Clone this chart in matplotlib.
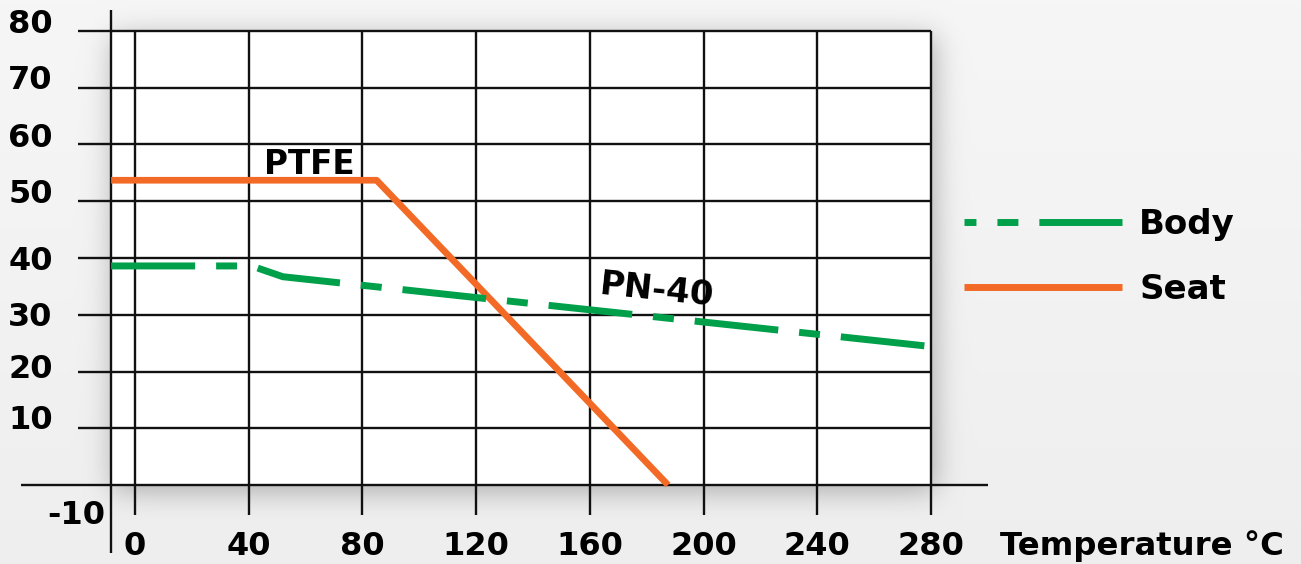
import numpy as np
import matplotlib
matplotlib.use("Agg")
import matplotlib.pyplot as plt
from matplotlib.lines import Line2D

plt.rcParams['font.family'] = ['DejaVu Sans']
plt.rcParams['font.weight'] = 'bold'
plt.rcParams['lines.scale_dashes'] = False

# Данные
x_ticks = [0, 40, 80, 120, 160, 200, 240, 280]
y_ticks = [80, 70, 60, 50, 40, 30, 20, 10]
y_label_shift = [1.2, 1.3, 1.1, 1.2, -0.6, -0.4, 0.4, 1.4]   # смещение подписей

seat_t = [-8.4, 85, 187.5]
seat_p = [53.7, 53.7, 0]

body_t = [-8.4, 41, 52, 280]
body_p = [38.6, 38.6, 36.7, 24.4]

green = '#00a04b'
orange = '#f26a25'
W, H = 1301, 564

fig = plt.figure(figsize=(W / 100, H / 100), dpi=100)

# Фон с тенью вокруг белой области
yy = np.linspace(0, 1, H)[:, None]
base = 0.965 - 0.03 * yy + np.zeros((H, W))
mask = np.zeros((H, W))
mask[36:491, 113:935] = 1.0
k = np.arange(-45, 46)
g = np.exp(-k ** 2 / (2 * 14.0 ** 2))
g /= g.sum()
blur = np.array([np.convolve(r, g, mode='same') for r in mask])
blur = np.array([np.convolve(c, g, mode='same') for c in blur.T]).T
img = np.clip(base - 0.27 * blur, 0, 1)
axbg = fig.add_axes([0, 0, 1, 1], zorder=-10)
axbg.imshow(np.dstack([img] * 3), aspect='auto', interpolation='bilinear')
axbg.axis('off')

ax = fig.add_axes([111 / W, 79 / H, 820 / W, 454 / H])
ax.set_facecolor('white')
ax.set_xlim(-8.44, 280)
ax.set_ylim(0, 80)
for s in ax.spines.values():
    s.set_visible(False)
ax.set_xticks([])
ax.set_yticks([])

lw_grid = 1.7
ax.hlines(y_ticks, -20, 280, color='#111111', lw=lw_grid, clip_on=False, zorder=2)
ax.vlines(x_ticks, -5.3, 80, color='#111111', lw=lw_grid, clip_on=False, zorder=2)
ax.vlines(-8.44, -12, 83.7, color='#111111', lw=lw_grid, clip_on=False, zorder=2)
ax.hlines(0, -40, 300, color='#111111', lw=lw_grid, clip_on=False, zorder=2)

ax.plot(seat_t, seat_p, color=orange, lw=4.8, solid_capstyle='butt',
        clip_on=False, zorder=3)
ax.plot(body_t, body_p, color=green, lw=5, dash_capstyle='butt',
        dashes=(60.5, 15.1, 15.1, 15.1), clip_on=False, zorder=3)

# Подписи осей
fs_tick = 23
for v, d in zip(y_ticks, y_label_shift):
    ax.text(-36.8, v + d, str(v), ha='center', va='center', fontsize=fs_tick,
            clip_on=False)
ax.text(-20.6, -5.3, '-10', ha='center', va='center', fontsize=fs_tick, clip_on=False)
for v in x_ticks:
    ax.text(v, -12.3, str(v), ha='center', va='baseline', fontsize=fs_tick,
            clip_on=False)
ax.text(304.3, -12.4, 'Temperature °C', ha='left', va='baseline', fontsize=23.3,
        clip_on=False)

ax.text(45.5, 54.8, 'PTFE', ha='left', va='baseline', fontsize=23.5, clip_on=False)
ax.text(183.6, 34.2, 'PN-40', ha='center', va='center', fontsize=24.5,
        rotation=-6, rotation_mode='anchor', clip_on=False)

# Легенда
h_body = Line2D([], [], color=green, lw=5, dash_capstyle='butt',
                dashes=(8.6, 15.1, 15.1, 15.1, 80, 1))
h_seat = Line2D([], [], color=orange, lw=5, solid_capstyle='butt')
fig.legend([h_body, h_seat], ['Body', 'Seat'], loc='center left',
           bbox_to_anchor=(964 / W, 1 - 257 / H), frameon=False,
           fontsize=24.5, handlelength=4.65, handletextpad=0.5,
           labelspacing=0.95, borderpad=0, borderaxespad=0)

fig.savefig('out.png', dpi=100)
